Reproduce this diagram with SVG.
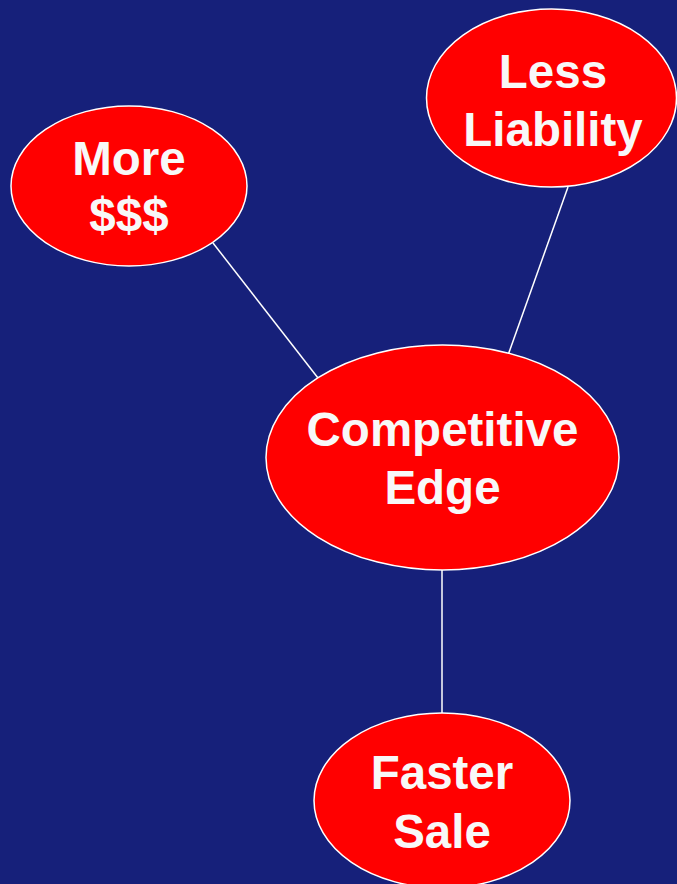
<svg xmlns="http://www.w3.org/2000/svg" width="677" height="884" viewBox="0 0 677 884">
<style>
.node{fill:#FF0000;stroke:#FFFFFF;stroke-width:1.5}
.lbl{fill:#F8F8F8;font-family:"Liberation Sans",Arial,sans-serif;font-weight:bold;font-size:47.5px;text-anchor:middle}
.conn line{stroke:#FFFFFF;stroke-width:1.5}
</style>
<rect x="0" y="0" width="677" height="884" fill="#16207A"/>
<g id="connectors" class="conn">
<line x1="213" y1="243" x2="318" y2="378"/>
<line x1="568" y1="187" x2="507" y2="358"/>
<line x1="442" y1="570" x2="442" y2="713"/>
</g>
<g id="more">
<ellipse class="node" cx="129" cy="186" rx="118" ry="80"/>
<text class="lbl" x="129" y="175">More</text>
<text class="lbl" x="129" y="231">$$$</text>
</g>
<g id="less">
<ellipse class="node" cx="551.5" cy="98" rx="125" ry="89"/>
<text class="lbl" x="553" y="88">Less</text>
<text class="lbl" x="553" y="146">Liability</text>
</g>
<g id="competitive">
<ellipse class="node" cx="442.5" cy="457.5" rx="176.5" ry="112.5"/>
<text class="lbl" x="442.5" y="446">Competitive</text>
<text class="lbl" x="442.5" y="504">Edge</text>
</g>
<g id="faster">
<ellipse class="node" cx="442" cy="800.5" rx="128" ry="87.5"/>
<text class="lbl" x="442" y="789">Faster</text>
<text class="lbl" x="442" y="848">Sale</text>
</g>
</svg>
